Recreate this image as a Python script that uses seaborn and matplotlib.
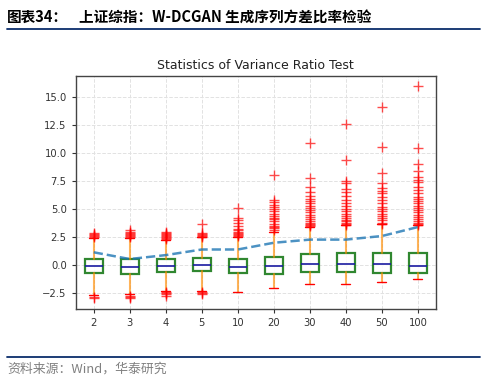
import numpy as np
import pandas as pd
import seaborn as sns
import matplotlib.pyplot as plt

# Lags on the x axis
lags = ["2", "3", "4", "5", "10", "20", "30", "40", "50", "100"]

# Box statistics
q1 = [-0.72, -0.76, -0.57, -0.54, -0.66, -0.76, -0.60, -0.60, -0.66, -0.66]
med = [-0.07, -0.19, -0.07, 0.02, -0.19, -0.07, 0.11, 0.11, 0.11, -0.07]
q3 = [0.55, 0.52, 0.55, 0.67, 0.55, 0.76, 1.00, 1.06, 1.06, 1.06]
whis_lo = [-2.65, -2.60, -2.30, -2.30, -2.39, -2.00, -1.70, -1.70, -1.50, -1.23]
whis_hi = [2.45, 2.39, 2.24, 2.48, 2.50, 2.98, 3.40, 3.55, 3.64, 3.55]

# Outliers per lag
fliers = [
    [2.55, 2.6, 2.7, 2.8, 2.85, -2.8, -2.95],
    [2.5, 2.6, 2.7, 2.8, 2.9, 3.0, 3.1, -2.7, -2.8, -2.9],
    [2.3, 2.4, 2.5, 2.6, 2.7, 2.8, 2.9, 3.0, -2.4, -2.5, -2.6, -2.7],
    [2.55, 2.6, 2.7, 2.8, 2.85, 3.65, -2.4, -2.5, -2.6],
    [2.6, 2.7, 2.8, 2.9, 3.0, 3.1, 3.2, 3.5, 3.8, 4.0, 4.2, 5.1],
    [3.1, 3.3, 3.4, 3.5, 3.7, 3.9, 4.1, 4.2, 4.4, 4.6, 4.8, 5.0, 5.2, 5.4, 5.6, 5.8, 8.02],
    [3.45, 3.55, 3.7, 3.8, 3.9, 4.1, 4.3, 4.5, 4.7, 4.9, 5.1, 5.3, 5.5, 5.7,
     5.9, 6.2, 6.5, 7.0, 7.8, 10.85],
    [3.6, 3.7, 3.8, 3.9, 4.0, 4.2, 4.4, 4.6, 4.8, 5.0, 5.3, 5.5, 5.8, 6.2,
     6.5, 6.8, 7.3, 7.5, 9.35, 12.6],
    [3.7, 3.8, 4.0, 4.2, 4.4, 4.6, 4.8, 5.0, 5.2, 5.5, 5.8, 6.1, 6.4, 6.6,
     6.9, 7.3, 8.2, 10.5, 14.05],
    [3.6, 3.7, 3.8, 3.9, 4.1, 4.3, 4.5, 4.7, 4.9, 5.1, 5.3, 5.5, 5.7, 5.9,
     6.1, 6.4, 6.7, 7.0, 7.4, 7.6, 7.9, 8.4, 9.0, 10.4, 16.0],
]

# Dashed line across the boxes
mean_line = [1.15, 0.55, 0.9, 1.4, 1.4, 2.0, 2.28, 2.28, 2.6, 3.4]

sns.set_style("whitegrid", {"grid.linestyle": "--", "grid.color": "#e2e2e2",
                            "axes.edgecolor": "#444444",
                            "xtick.bottom": True, "ytick.left": True})
plt.rcParams['font.family'] = ['DejaVu Sans', 'Noto Sans CJK SC']

fig = plt.figure(figsize=(4.9, 3.88), dpi=100)
ax = fig.add_axes([0.1545, 0.2036, 0.7353, 0.6005])

positions = np.arange(1, len(lags) + 1)
stats = []
for i in range(len(lags)):
    stats.append(dict(q1=q1[i], med=med[i], q3=q3[i], whislo=whis_lo[i],
                      whishi=whis_hi[i], fliers=fliers[i], label=lags[i]))

ax.bxp(stats, positions=positions, widths=0.5, patch_artist=True,
       boxprops=dict(facecolor="white", edgecolor="#0c720c", linewidth=1.6, alpha=0.85),
       medianprops=dict(color="#1a1aa0", linewidth=1.2),
       whiskerprops=dict(color="#ff8c00", linewidth=1.5, alpha=0.65),
       capprops=dict(color="red", linewidth=1.0),
       flierprops=dict(marker="+", markeredgecolor="red", markersize=6.5,
                       markeredgewidth=1.0, alpha=0.7))

df = pd.DataFrame({"pos": positions, "value": mean_line})
sns.lineplot(data=df, x="pos", y="value", ax=ax, color="#1f77b4", alpha=0.8,
             linewidth=1.8, linestyle="--")

ax.set_xlim(0.5, 10.5)
ax.set_ylim(-3.9, 16.85)
ax.set_yticks([-2.5, 0.0, 2.5, 5.0, 7.5, 10.0, 12.5, 15.0])
ax.set_yticklabels(["\u22122.5", "0.0", "2.5", "5.0", "7.5", "10.0", "12.5", "15.0"])
ax.set_xticks(positions)
ax.set_xticklabels(lags)
ax.set_xlabel("")
ax.set_ylabel("")
ax.tick_params(labelsize=7.2, colors="#333333", length=3, width=0.8)
ax.grid(True, linewidth=0.7)
for s in ax.spines.values():
    s.set_linewidth(1.0)
ax.set_title("Statistics of Variance Ratio Test", fontsize=9, color="#222222", pad=5)

# Header and footer
cjk = ['Noto Sans CJK SC', 'DejaVu Sans']
fig.text(7 / 490, 1 - 17 / 388, "图表34：", family=cjk, fontsize=10.5,
         fontweight="bold", va="center", ha="left", color="black")
fig.text(79 / 490, 1 - 17 / 388, "上证综指：W-DCGAN 生成序列方差比率检验", family=cjk,
         fontsize=10.5, fontweight="bold", va="center", ha="left", color="black")
fig.add_artist(plt.Line2D([7 / 490, 480 / 490], [1 - 28.5 / 388, 1 - 28.5 / 388],
                          color="#0b2d6b", linewidth=1.3))
fig.add_artist(plt.Line2D([7 / 490, 480 / 490], [1 - 356.5 / 388, 1 - 356.5 / 388],
                          color="#0b2d6b", linewidth=1.3))
fig.text(7 / 490, 1 - 369 / 388, "资料来源：Wind，华泰研究", family=cjk, fontsize=9.3,
         va="center", ha="left", color="#808080")

fig.savefig("out.png", dpi=100)
